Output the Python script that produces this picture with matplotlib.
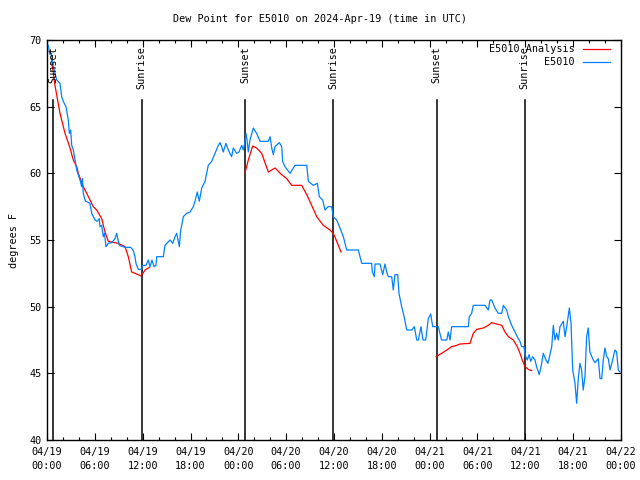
import numpy as np
import matplotlib
matplotlib.use("Agg")
import matplotlib.pyplot as plt
from matplotlib.ticker import MultipleLocator, FixedLocator

# ---- data (hours since 2024-04-19 00:00 UTC) ----
obs_hours = [0.16, 0.38, 0.56, 0.66, 1.0, 1.22, 1.63, 1.84, 2.04, 2.38, 2.67, 2.80, 2.97, 3.10, 3.30,
             3.73, 4.14, 4.35, 4.45, 4.55, 4.77, 4.89, 5.39, 5.61, 6.02, 6.27, 6.56, 6.65, 6.86, 7.06,
             7.21, 7.40, 7.69, 8.12, 8.53, 8.74, 8.91, 9.07, 9.78, 10.50, 10.83, 11.04, 11.16, 11.45,
             11.85, 12.0, 12.42, 12.71, 12.92, 13.17, 13.42, 13.67, 13.76, 14.59, 14.80, 15.43, 15.77,
             16.06, 16.27, 16.43, 16.60, 16.77, 16.90, 17.10, 17.52, 17.94, 18.35, 18.56, 18.85, 19.10,
             19.41, 19.82, 20.03, 20.23, 20.66, 21.07, 21.49, 21.70, 21.91, 22.11, 22.45, 22.74, 23.16,
             23.37, 23.79, 24.08, 24.42, 24.62, 24.84, 24.96, 25.09, 25.25, 25.46, 25.88, 26.30, 26.72,
             27.76, 27.98, 28.19, 28.39, 28.60, 29.14, 29.44, 29.56, 29.85, 30.48, 31.11, 32.58, 32.78,
             33.40, 33.91, 34.16, 34.58, 34.87, 35.25, 35.71, 35.91, 36.34, 36.75, 37.17, 37.59, 39.05,
             39.48, 40.73, 40.81, 41.06, 41.15, 41.77, 42.11, 42.40, 42.61, 42.81, 43.24, 43.44, 43.65,
             43.99, 44.15, 44.49, 44.82, 45.12, 45.75, 46.08, 46.38, 46.58, 46.91, 47.16, 47.50, 47.83,
             48.13, 48.38, 49.08, 49.49, 50.14, 50.34, 50.55, 50.76, 52.85, 52.97, 53.27, 53.47, 54.94,
             55.35, 55.57, 55.78, 56.19, 56.61, 57.04, 57.24, 57.66, 57.87, 58.29, 58.70, 59.12, 59.33,
             59.54, 59.83, 59.96, 60.25, 60.46, 60.67, 60.92, 61.21, 61.41, 61.75, 62.05, 62.25, 62.59,
             62.84, 63.31, 63.51, 63.72, 63.93, 64.14, 64.35, 64.76, 64.98, 65.19, 65.52, 65.73, 65.94,
             66.23, 66.44, 66.64, 66.85, 67.06, 67.26, 67.48, 67.69, 67.89, 68.10, 68.52, 68.74, 69.15,
             69.37, 69.58, 69.78, 69.99, 70.20, 70.41, 70.62, 70.95, 71.24, 71.45, 71.66, 71.87]
obs_dewpt = [69.6, 68.9, 69.0, 68.4, 67.5, 67.0, 66.75, 65.75, 65.4, 65.0, 64.0, 63.0, 63.25, 62.1, 61.75,
             60.25, 59.5, 59.0, 59.6, 58.5, 58.0, 57.9, 57.75, 57.0, 56.5, 56.4, 56.6, 56.0, 56.1, 55.25,
             55.5, 54.5, 54.75, 54.8, 55.1, 55.5, 55.0, 54.6, 54.45, 54.45, 54.2, 53.75, 53.25, 52.8,
             52.8, 53.1, 53.1, 53.5, 53.0, 53.5, 53.0, 53.1, 53.75, 53.75, 54.6, 55.0, 54.75,
             55.25, 55.5, 55.0, 54.5, 55.75, 56.1, 56.75, 57.0, 57.1, 57.5, 57.9, 58.6, 57.9,
             58.9, 59.4, 60.0, 60.6, 60.9, 61.5, 62.1, 62.3, 62.0, 61.6, 62.25, 61.75, 61.25,
             61.9, 61.5, 61.6, 62.1, 61.75, 62.4, 63.0, 62.5, 61.6, 62.5, 63.4, 63.0, 62.4,
             62.4, 62.75, 61.9, 61.4, 62.0, 62.3, 62.0, 60.9, 60.5, 60.0, 60.6, 60.6, 59.4,
             59.1, 59.25, 58.25, 58.0, 57.25, 57.5, 57.5, 56.75, 56.5, 55.9, 55.25, 54.25, 54.25,
             53.25, 53.25, 52.6, 52.25, 53.2, 53.2, 52.4, 53.2, 52.6, 52.25, 52.25, 51.25, 52.4,
             52.4, 51.0, 50.0, 49.2, 48.25, 48.25, 48.5, 47.5, 47.5, 48.5, 47.5, 47.5, 49.1,
             49.45, 48.5, 48.5, 47.5, 47.5, 48.1, 47.5, 48.5, 48.5, 49.25, 49.5, 50.1, 50.1,
             49.75, 50.5, 50.5, 49.9, 49.5, 49.5, 50.1, 49.75, 49.25, 48.6, 48.1, 47.6, 47.4,
             47.0, 47.0, 46.4, 46.0, 46.4, 45.9, 46.25, 46.0, 45.5, 44.9, 45.75, 46.5, 46.0,
             45.75, 47.0, 48.6, 47.5, 48.0, 47.5, 48.5, 48.9, 47.75, 48.5, 49.9, 48.75, 45.25,
             44.25, 42.75, 44.6, 45.75, 45.25, 43.75, 44.75, 47.75, 48.4, 46.6, 46.0, 45.8, 46.1,
             44.6, 44.6, 46.0, 46.9, 46.25, 46.1, 45.25, 46.0, 46.75, 46.6, 45.25, 45.1]

ana1_hours = [0.55, 1.0, 1.63, 2.26, 2.89, 3.30, 3.73, 3.93, 4.55, 4.98, 5.81, 6.23, 6.86, 7.28, 7.69,
              8.94, 9.78, 10.20, 10.62, 11.25, 11.79, 12.30, 12.83]
ana1_dewpt = [68.6, 66.6, 64.5, 63.0, 61.9, 61.0, 60.5, 60.0, 59.0, 58.5, 57.5, 57.25, 56.6, 55.6, 54.9,
              54.75, 54.5, 53.75, 52.6, 52.45, 52.3, 52.75, 52.95]
ana2_hours = [24.84, 25.25, 25.80, 26.30, 26.93, 27.76, 28.60, 29.44, 30.07, 30.69, 31.95, 32.58, 33.20,
              33.83, 34.66, 35.50, 35.91, 36.34, 36.88]
ana2_dewpt = [60.05, 61.0, 62.05, 61.9, 61.5, 60.1, 60.4, 59.9, 59.6, 59.1, 59.1, 58.4, 57.6,
              56.75, 56.1, 55.75, 55.5, 54.9, 54.1]
ana3_hours = [48.80, 49.51, 50.14, 50.76, 51.39, 51.81, 53.06, 53.47, 53.90, 54.73, 55.35, 55.78, 56.41,
              57.04, 57.45, 57.87, 58.49, 58.99, 59.33, 59.67, 59.96, 60.37, 60.80]
ana3_dewpt = [46.25, 46.5, 46.75, 47.0, 47.1, 47.2, 47.25, 48.0, 48.3, 48.4, 48.6, 48.8, 48.7,
              48.6, 48.1, 47.75, 47.5, 47.0, 46.5, 45.9, 45.5, 45.3, 45.2]

event_hours = [0.75, 11.86, 24.84, 35.9, 48.9, 59.9]
event_labels = ["Sunset", "Sunrise", "Sunset", "Sunrise", "Sunset", "Sunrise"]

xtick_hours = list(range(0, 73, 6))
xtick_labels = ["04/19\n00:00", "04/19\n06:00", "04/19\n12:00", "04/19\n18:00",
                "04/20\n00:00", "04/20\n06:00", "04/20\n12:00", "04/20\n18:00",
                "04/21\n00:00", "04/21\n06:00", "04/21\n12:00", "04/21\n18:00",
                "04/22\n00:00"]

title = "Dew Point for E5010 on 2024-Apr-19 (time in UTC)"
series_names = ["E5010 Analysis", "E5010"]
colors = ["#ff0000", "#0080ff"]

# ---- plot ----
FONT = "DejaVu Sans Mono"
FS = 7.3
plt.rcParams['font.family'] = [FONT]
plt.rcParams['font.size'] = FS

fig = plt.figure(figsize=(6.4, 4.8), dpi=100)
ax = fig.add_axes([47/640, 1-440/480, (621-47)/640, 400/480])
ax.set_xlim(0, 72)
ax.set_ylim(40, 70)

for h, d in [(ana1_hours, ana1_dewpt), (ana2_hours, ana2_dewpt), (ana3_hours, ana3_dewpt)]:
    ax.plot(h, d, color=colors[0], lw=0.9, zorder=3)
ax.plot(obs_hours, obs_dewpt, color=colors[1], lw=0.9, zorder=4)

for h, lab in zip(event_hours, event_labels):
    ax.plot([h, h], [0, 0.85], transform=ax.get_xaxis_transform(), color="black", lw=1.1, zorder=2)
    ax.text(h, 0.985, lab, transform=ax.get_xaxis_transform(), rotation=90,
            ha="center", va="top", fontsize=FS, zorder=5)

ax.xaxis.set_major_locator(FixedLocator(xtick_hours))
ax.set_xticklabels(xtick_labels, linespacing=1.45)
ax.xaxis.set_minor_locator(MultipleLocator(2))
ax.yaxis.set_major_locator(MultipleLocator(5))
ax.tick_params(which="major", direction="in", length=5, width=0.8, top=True, right=True, pad=4)
ax.tick_params(which="minor", direction="in", length=2.5, width=0.8, top=True, right=True)
ax.tick_params(axis="x", which="major", pad=5)
for sp in ax.spines.values():
    sp.set_linewidth(1.0)

ax.set_ylabel("degrees F", labelpad=7)
fig.text(0.5, 1-19/480, title, ha="center", va="center", fontsize=FS)

# legend (manual, gnuplot style)
leg_y = [1-49/480, 1-62/480]
for name, c, y in zip(series_names, colors, leg_y):
    fig.text(575/640, y, name, ha="right", va="center", fontsize=FS)
    fig.add_artist(plt.Line2D([583/640, 610/640], [y, y], color=c, lw=0.9, transform=fig.transFigure))

fig.savefig("out.png", dpi=100)
